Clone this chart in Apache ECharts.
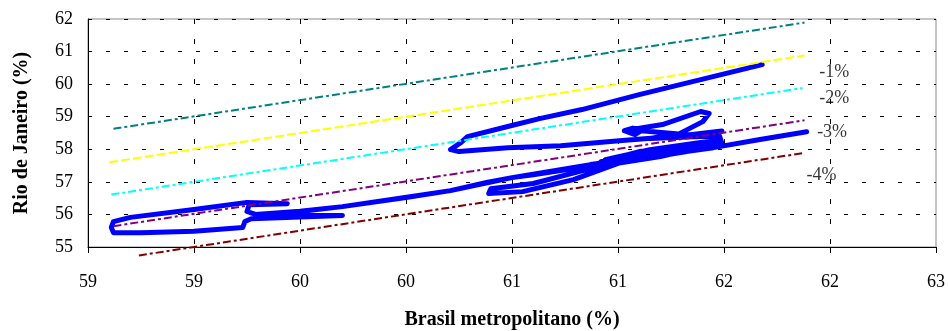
<!DOCTYPE html>
<html>
<head>
<meta charset="utf-8">
<script src="https://cdn.jsdelivr.net/npm/echarts@6/dist/echarts.min.js"></script>
<style>
  html, body { margin: 0; padding: 0; background: #fff; }
  #chart { width: 948px; height: 331px; }
</style>
</head>
<body>
<div id="chart"></div>
<script>
// tick labels as printed on the original (rounded values)
const xTickLabels = ["59", "59", "60", "60", "61", "61", "62", "62", "63"];
const xMin = 58.8;
const xMax = 62.8;
const yMin = 55;
const yMax = 62;

// Brasil metropolitano (x) vs Rio de Janeiro (y)
const brasil = [
  61.98, 61.69, 61.40, 61.13, 60.93, 60.78, 60.59, 60.56, 60.51, 60.55,
  60.78, 61.03, 61.32, 61.59, 61.79, 61.75, 61.41, 61.33, 61.37, 61.41,
  61.38, 61.33, 61.51, 61.69, 61.73, 61.70, 61.59, 61.45, 61.69, 61.78,
  61.79, 61.64, 61.40, 61.24, 61.45, 61.69, 61.77, 61.64, 61.40, 61.22,
  61.45, 61.76, 61.50, 61.26, 61.50, 61.78, 61.31, 61.69, 61.36, 61.71,
  61.31, 61.09, 60.85, 60.69, 60.70, 60.90, 61.12, 61.31, 61.55, 61.78,
  61.59, 61.31, 61.17, 61.06, 60.90, 60.80, 60.68, 60.51, 60.30, 60.00,
  59.80, 59.59, 60.00, 59.80, 59.57, 59.54, 59.53, 59.30, 59.05, 58.92,
  58.91, 58.92, 59.00, 59.30, 59.55, 59.74, 59.56, 59.55, 59.59, 59.80,
  60.00, 60.51, 60.80, 61.17, 61.45, 61.75, 61.97, 62.19
];
const rio = [
  60.60, 60.14, 59.68, 59.22, 58.94, 58.70, 58.39, 58.21, 57.99, 57.93,
  58.05, 58.11, 58.27, 58.41, 58.56, 58.38, 58.57, 58.57, 58.65, 58.57,
  58.45, 58.57, 58.76, 59.16, 59.10, 58.85, 58.48, 58.33, 58.39, 58.39,
  58.18, 58.02, 57.84, 57.68, 57.99, 58.21, 58.27, 58.08, 57.93, 57.62,
  57.84, 58.17, 57.78, 57.53, 57.90, 58.11, 57.75, 58.11, 57.68, 58.02,
  57.59, 57.07, 56.70, 56.64, 56.79, 56.95, 57.32, 57.62, 57.87, 58.11,
  57.93, 57.68, 57.53, 57.38, 57.22, 57.13, 56.98, 56.73, 56.52, 56.24,
  56.09, 55.97, 55.97, 55.92, 55.87, 55.78, 55.60, 55.48, 55.44, 55.44,
  55.60, 55.78, 55.91, 56.15, 56.37, 56.33, 56.30, 56.09, 56.00, 56.10,
  56.24, 56.73, 57.13, 57.53, 57.78, 58.05, 58.30, 58.54
];

// reference lines (start and end points)
const lineTop = [[58.92, 58.63], [62.18, 61.89]];
const line1 = [[58.90, 57.60], [62.18, 60.88]];
const line2 = [[58.91, 56.61], [62.17, 59.88]];
const line3 = [[58.92, 55.64], [62.18, 58.89]];
const line4 = [[59.04, 54.74], [62.18, 57.89]];

const refLabels = ["-1%", "-2%", "-3%", "-4%"];
const refLabelX = [62.32, 62.32, 62.31, 62.26];
const refLabelY = [60.36, 59.56, 58.51, 57.20];

const serif = '"Liberation Serif", "Times New Roman", serif';

const myChart = echarts.init(document.getElementById("chart"));

const dashed = (name, data, color, dash, clip) => ({
  name: name,
  type: "line",
  xAxisIndex: 1,
  data: data,
  symbol: "none",
  clip: clip,
  lineStyle: { color: color, width: 2, type: dash },
  z: 3,
});

const option = {
  animation: false,
  textStyle: { fontFamily: serif },
  grid: {
    left: 88, right: 12, top: 19, bottom: 84,
    outerBoundsMode: "none",
    show: true, borderColor: "#8c8c8c", borderWidth: 1,
  },
  xAxis: [
    {
      type: "category",
      data: xTickLabels,
      boundaryGap: false,
      name: "Brasil metropolitano (%)",
      nameLocation: "middle",
      nameGap: 63,
      nameTextStyle: { fontFamily: serif, fontSize: 20, fontWeight: "bold", color: "#000" },
      axisLine: { lineStyle: { color: "#000", width: 1 } },
      axisTick: { show: true, length: 6, alignWithLabel: true, lineStyle: { color: "#000" } },
      axisLabel: { fontFamily: serif, fontSize: 18, color: "#000", margin: 26 },
      splitLine: {
        show: true,
        interval: (index) => index > 0 && index < xTickLabels.length - 1,
        lineStyle: { color: "#000", width: 1, type: [5, 15] },
      },
    },
    {
      type: "value",
      min: xMin,
      max: xMax,
      show: false,
    },
  ],
  yAxis: {
    type: "value",
    min: yMin,
    max: yMax,
    interval: 1,
    name: "Rio de Janeiro (%)",
    nameLocation: "middle",
    nameRotate: 90,
    nameGap: 56,
    nameTextStyle: { fontFamily: serif, fontSize: 20, fontWeight: "bold", color: "#000" },
    axisLine: { show: true, lineStyle: { color: "#000", width: 1 } },
    axisTick: { show: false },
    axisLabel: { fontFamily: serif, fontSize: 18, color: "#000", margin: 15 },
    splitLine: {
      show: true,
      lineStyle: { color: "#000", width: 1, type: [4, 14] },
    },
  },
  series: [
    {
      name: "Rio x Brasil",
      type: "line",
      xAxisIndex: 1,
      data: brasil.map((x, i) => [x, rio[i]]),
      symbol: "none",
      lineStyle: { color: "#0000ff", width: 5, join: "round", cap: "round" },
      z: 2,
    },
    dashed("0%", lineTop, "#008080", [8, 3, 3, 3], true),
    dashed("-1%", line1, "#ffff00", [9, 3], true),
    dashed("-2%", line2, "#00ffff", [8, 3, 3, 3], true),
    dashed("-3%", line3, "#800080", [8, 3, 3, 3], true),
    dashed("-4%", line4, "#800000", [8, 3, 3, 3], false),
    {
      name: "labels",
      type: "scatter",
      xAxisIndex: 1,
      symbolSize: 0,
      data: refLabels.map((t, i) => [refLabelX[i], refLabelY[i], t]),
      label: {
        show: true,
        position: "inside",
        formatter: (p) => p.data[2],
        fontFamily: serif,
        fontSize: 18,
        color: "#000",
      },
      z: 4,
    },
  ],
};

myChart.setOption(option);
</script>
</body>
</html>
